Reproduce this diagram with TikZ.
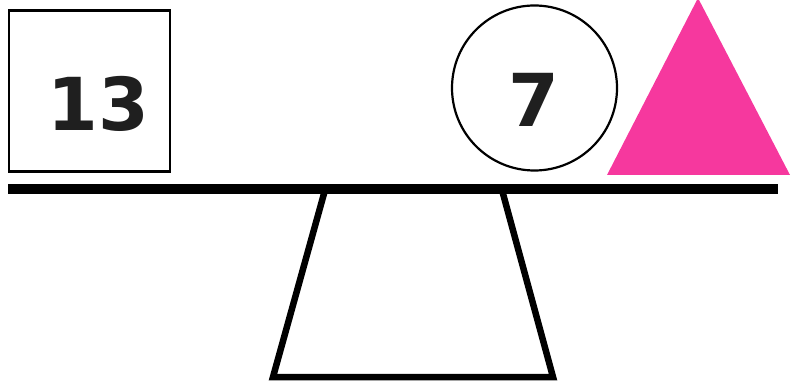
\documentclass[tikz,border=0pt]{standalone}
\usepackage{fontspec}
\setmainfont{DejaVu Sans}
\usetikzlibrary{positioning}
\definecolor{hotpink}{RGB}{246,56,158}
\tikzset{
  weight/.style={draw, line width=2.2pt, inner sep=0pt},
  digit/.style={font=\fontsize{73}{73}\selectfont\bfseries, text=black!88, inner sep=0pt},
  plank/.style={line width=10pt},
  stand/.style={line width=6.5pt, line join=miter}
}
\begin{document}
\begin{tikzpicture}[x=1pt,y=-1pt]
  \useasboundingbox (0,0) rectangle (791,387);
  % weights
  \node[weight, minimum width=161pt, minimum height=161pt] (box) at (89.5,91) {};
  \node[digit] (boxnum) at (98,104) {13};
  \node[weight, circle, minimum size=165pt] (ball) at (534.5,88) {};
  \node[digit] (ballnum) at (534,100) {7};
  \fill[hotpink] (607,175) -- (698,-2) -- (790,175) -- cycle;
  % beam and stand
  \coordinate (beamL) at (8,189);
  \coordinate (beamR) at (778,189);
  \draw[plank] (beamL) -- (beamR);
  \draw[stand] (325,190) -- (273,377) -- (553,377) -- (502,190);
\end{tikzpicture}
\end{document}
